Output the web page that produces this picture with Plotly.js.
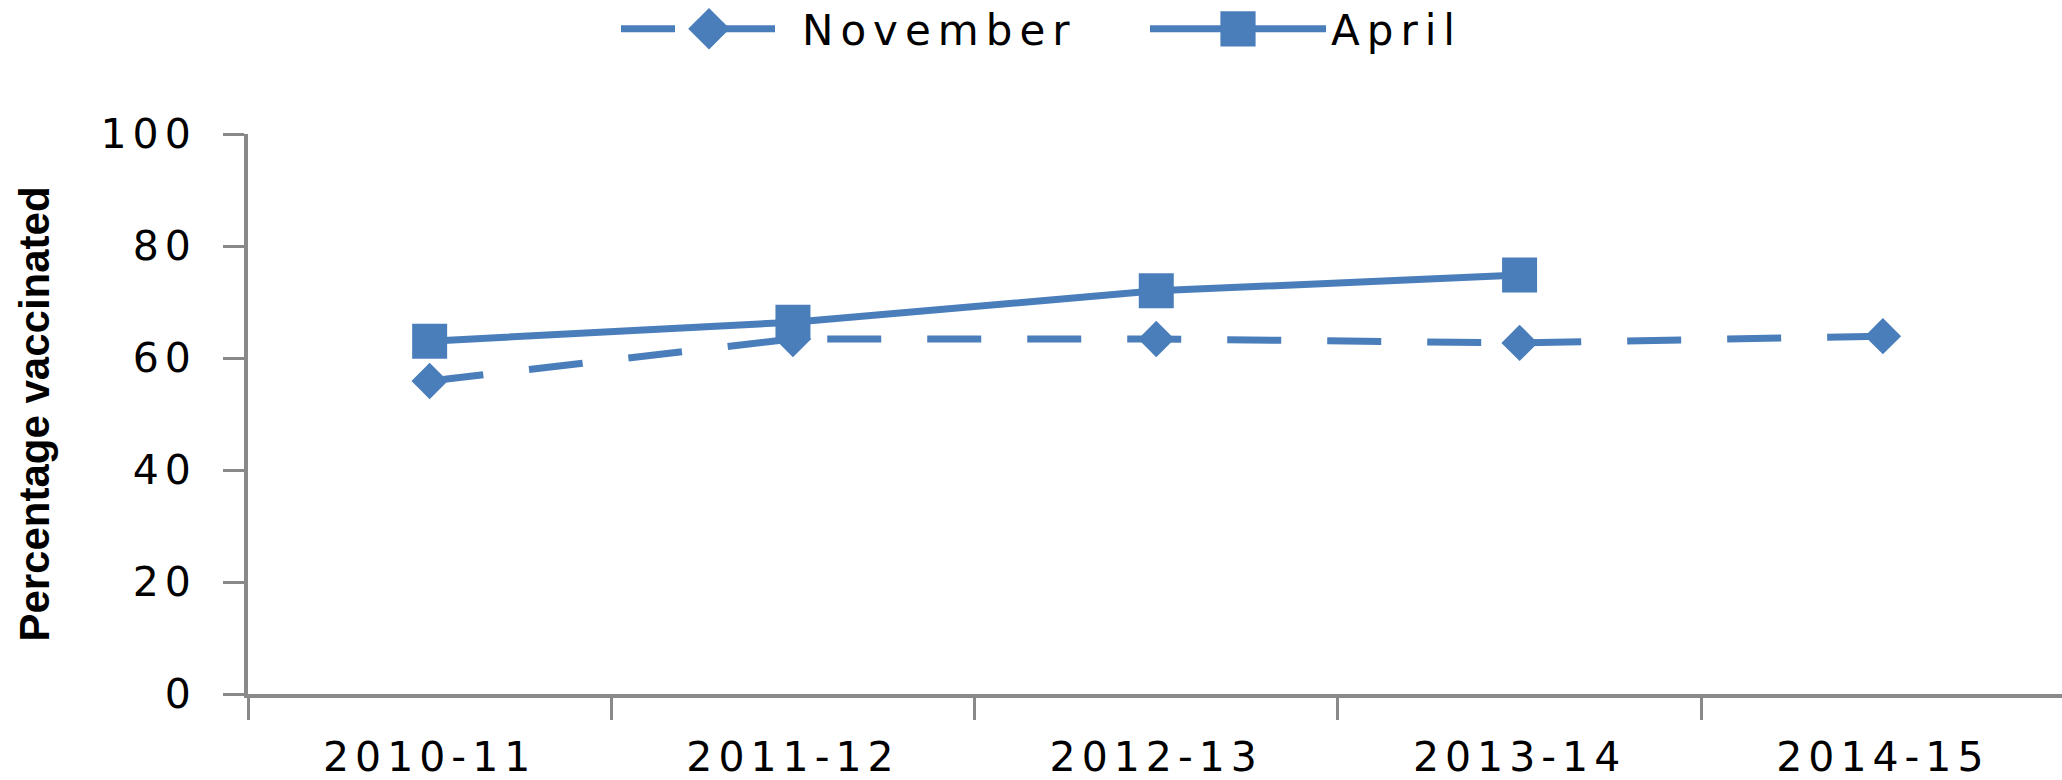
<!DOCTYPE html>
<html>
<head>
<meta charset="utf-8">
<script src="https://cdn.plot.ly/plotly-3.0.1.min.js"></script>
<style>
  html, body { margin: 0; padding: 0; background: #fff; }
  #chart { width: 2062px; height: 780px; }
  .xtick text, .ytick text { letter-spacing: 6px; }
  .legendtext { letter-spacing: 7px; }
</style>
</head>
<body>
<div id="chart"></div>
<script>
// Data
var seasons = ["2010-11", "2011-12", "2012-13", "2013-14", "2014-15"];
var novemberValues = [55.9, 63.4, 63.4, 62.7, 63.9];
var aprilValues = [63.0, 66.4, 72.0, 74.8, null];
var yTickValues = [0, 20, 40, 60, 80, 100];
var seriesNames = ["November", "April"];

var blue = "#4a7ebb";
var axisGrey = "#898989";

var traces = [
  {
    x: seasons, y: novemberValues, name: seriesNames[0],
    type: "scatter", mode: "lines+markers",
    line: { color: blue, width: 7, dash: "54px,46px" },
    marker: { symbol: "diamond", size: 28, color: blue, line: { width: 0 } }
  },
  {
    x: seasons, y: aprilValues, name: seriesNames[1],
    type: "scatter", mode: "lines+markers", connectgaps: false,
    line: { color: blue, width: 7 },
    marker: { symbol: "square", size: 35, color: blue, line: { width: 0 } }
  }
];

var layout = {
  width: 2062, height: 780,
  margin: { l: 248, r: 0, t: 134, b: 86, pad: 0 },
  paper_bgcolor: "#ffffff", plot_bgcolor: "#ffffff",
  showlegend: true,
  legend: {
    orientation: "h", xref: "container", yref: "container",
    x: 616 / 2062, xanchor: "left", y: 1 - 29 / 780, yanchor: "middle",
    itemwidth: 176, entrywidth: 338,
    font: { family: "DejaVu Sans", size: 42, color: "#000" },
    bgcolor: "rgba(0,0,0,0)", borderwidth: 0
  },
  xaxis: {
    type: "category",
    range: [-0.5, 4.493],
    showline: true, linecolor: axisGrey, linewidth: 4,
    ticks: "outside", tickson: "boundaries", ticklen: 22, tickwidth: 3, tickcolor: axisGrey,
    ticklabelstandoff: 24,
    showgrid: false, zeroline: false,
    tickfont: { family: "DejaVu Sans", size: 41, color: "#000" },
    fixedrange: true
  },
  yaxis: {
    range: [0, 100],
    tickvals: yTickValues,
    ticktext: yTickValues.map(String),
    showline: true, linecolor: axisGrey, linewidth: 4,
    ticks: "outside", ticklen: 21, tickwidth: 3, tickcolor: axisGrey,
    ticklabelstandoff: 18,
    showgrid: false, zeroline: false,
    tickfont: { family: "DejaVu Sans", size: 41, color: "#000" },
    title: { text: "Percentage vaccinated", standoff: 39,
      font: { family: "Liberation Sans", size: 42, color: "#000", weight: "bold" } },
    fixedrange: true
  }
};

Plotly.newPlot("chart", traces, layout, { staticPlot: true, displayModeBar: false }).then(function () {
  // enlarge legend symbols (Plotly caps legend marker size)
  var scales = [2.0, 2.2];
  document.querySelectorAll("#chart .legend .traces").forEach(function (g, i) {
    g.querySelectorAll("path.scatterpts").forEach(function (p) {
      var t = p.getAttribute("transform") || "";
      p.setAttribute("transform", t + " scale(" + scales[i] + ")");
    });
  });
});
</script>
</body>
</html>
